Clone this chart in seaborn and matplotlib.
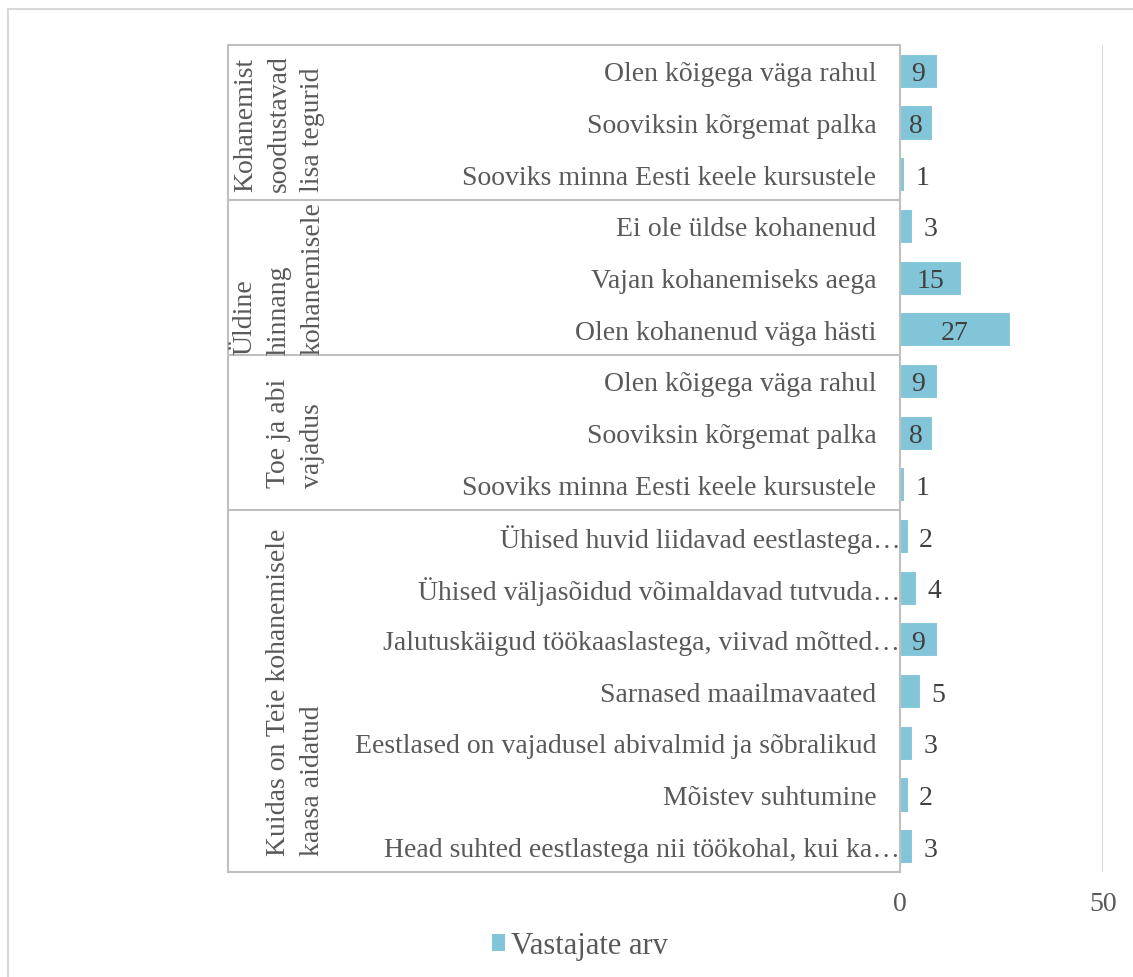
import matplotlib
matplotlib.use("Agg")
import matplotlib.pyplot as plt
import matplotlib.transforms as mtransforms
from matplotlib.lines import Line2D
from matplotlib.patches import Rectangle, Patch
import seaborn as sns
import pandas as pd

# Survey answers, grouped by question block (top to bottom)
groups = [
    "Kohanemist\nsoodustavad\nlisa tegurid",
    "Üldine\nhinnang\nkohanemisele",
    "Toe ja abi\nvajadus",
    "Kuidas on Teie kohanemisele\nkaasa aidatud",
]
group_items = [
    ["Olen kõigega väga rahul", "Sooviksin kõrgemat palka",
     "Sooviks minna Eesti keele kursustele"],
    ["Ei ole üldse kohanenud", "Vajan kohanemiseks aega",
     "Olen kohanenud väga hästi"],
    ["Olen kõigega väga rahul", "Sooviksin kõrgemat palka",
     "Sooviks minna Eesti keele kursustele"],
    ["Ühised huvid liidavad eestlastega…",
     "Ühised väljasõidud võimaldavad tutvuda…",
     "Jalutuskäigud töökaaslastega, viivad mõtted…",
     "Sarnased maailmavaated",
     "Eestlased on vajadusel abivalmid ja sõbralikud",
     "Mõistev suhtumine",
     "Head suhted eestlastega nii töökohal, kui ka…"],
]
group_values = [
    [9, 8, 1],
    [3, 15, 27],
    [9, 8, 1],
    [2, 4, 9, 5, 3, 2, 3],
]
series_name = "Vastajate arv"
x_ticks = [0, 50]

rows = []
for g, (items, vals) in enumerate(zip(group_items, group_values)):
    for item, v in zip(items, vals):
        rows.append({"key": f"{g}|{item}", "label": item, "group": g, "value": v})
df = pd.DataFrame(rows)

BAR = "#82C5D8"
TXT = "#595959"
VAL = "#404040"
LINE = "#BFBFBF"
GRID = "#D9D9D9"

sns.set_theme(style="white")
plt.rcParams["font.family"] = ["Liberation Serif", "DejaVu Serif"]

W, H = 1133, 978
fig = plt.figure(figsize=(W / 100, H / 100), dpi=100)
ax = fig.add_axes([900 / W, 1 - 873 / H, 203 / W, (873 - 46) / H])

sns.barplot(data=df, x="value", y="key", orient="h", color=BAR,
            width=0.66, edgecolor="white", linewidth=0.8, ax=ax,
            saturation=1)

ax.set_xlim(x_ticks[0], x_ticks[-1])
ax.set_ylim(len(df) - 0.5, -0.5)
ax.set_xticks(x_ticks)
ax.set_xticklabels([str(t) for t in x_ticks], fontsize=20, color=TXT)
ax.set_yticks(range(len(df)))
ax.set_yticklabels(df["label"], fontsize=20, color=TXT)
ax.tick_params(axis="y", length=0, pad=17)
ax.tick_params(axis="x", length=0, pad=14)
ax.set_xlabel("")
ax.set_ylabel("")

# truncated labels let the ellipsis run up to the axis line
shift = mtransforms.ScaledTranslation(24 / 100, 0, fig.dpi_scale_trans)
for lbl in ax.get_yticklabels():
    if lbl.get_text().endswith("…"):
        lbl.set_transform(lbl.get_transform() + shift)

for s in ["top", "right", "bottom"]:
    ax.spines[s].set_visible(False)
ax.spines["left"].set_color(LINE)
ax.spines["left"].set_linewidth(1.5)
ax.axvline(x_ticks[-1], color=GRID, lw=1.5, zorder=0)

# value labels: inside when the bar is wide enough, otherwise just past the end
container = ax.containers[0]
for rect, v in zip(container, df["value"]):
    y = rect.get_y() + rect.get_height() / 2
    if v >= 8:
        ax.text(v / 2, y, str(v), ha="center", va="center_baseline",
                fontsize=20, color=VAL)
    else:
        ax.annotate(str(v), (v, y), xytext=(8, 0), textcoords="offset points",
                    ha="left", va="center_baseline", fontsize=20, color=VAL)

# grouping table on the left of the category labels
tr = mtransforms.blended_transform_factory(fig.transFigure, ax.transData)
x_left = 228 / W
x_axis = 900 / W
sizes = [len(v) for v in group_values]
bounds = [-0.5]
for n in sizes:
    bounds.append(bounds[-1] + n)
for b in bounds:
    ax.add_line(Line2D([x_left, x_axis], [b, b], transform=tr, color=LINE,
                       lw=1.5, clip_on=False))
ax.add_line(Line2D([x_left, x_left], [bounds[0], bounds[-1]], transform=tr,
                   color=LINE, lw=1.5, clip_on=False))
for g, name in enumerate(groups):
    yc = (bounds[g] + bounds[g + 1]) / 2
    ax.text(325 / W, yc, name, transform=tr, rotation=90, ha="right",
            va="center", multialignment="left", fontsize=20, color=TXT,
            linespacing=1.45)

# legend
handle = Patch(facecolor=BAR, edgecolor="none")
fig.legend([handle], [series_name], loc="center",
           bbox_to_anchor=(580 / W, 1 - 947 / H), frameon=False,
           fontsize=22, labelcolor=TXT, handlelength=0.45, handleheight=0.45,
           handletextpad=0.2)

# chart area border
fig.patches.append(Rectangle((8 / W, -0.1), 1.2, 1.1 - 10 / H,
                             transform=fig.transFigure, fill=False,
                             edgecolor=GRID, lw=1.5))

fig.savefig("out.png", dpi=100)
